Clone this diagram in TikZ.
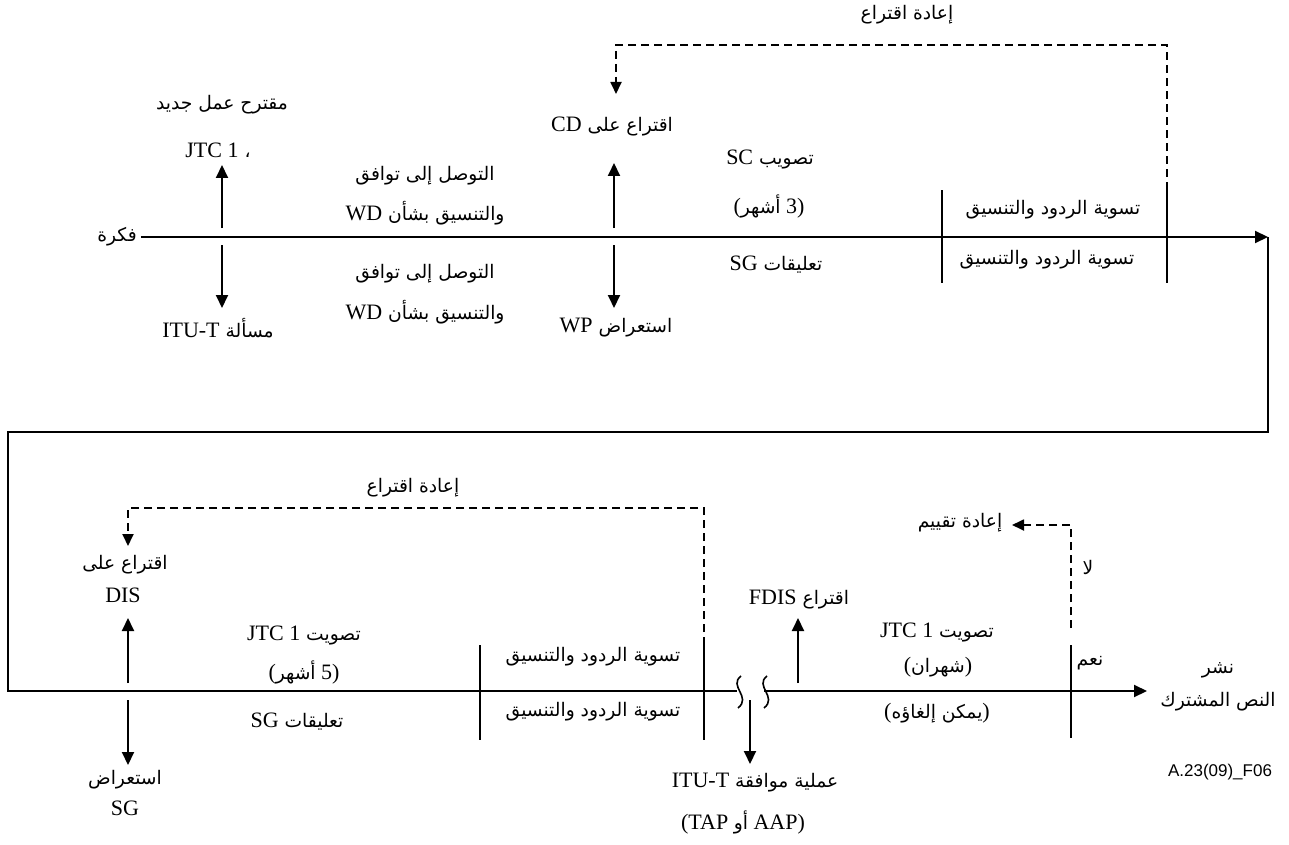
\documentclass[tikz,border=0pt]{standalone}
\usepackage{fontspec}
\setmainfont{Liberation Serif}
\newfontfamily\arfont[Script=Arabic,Scale=0.85]{DejaVu Sans}
\newfontfamily\codefont{Liberation Sans}
\TeXXeTstate=1
\usetikzlibrary{arrows.meta}
\newcommand\AR[1]{{\arfont\beginR #1\endR}}
\newcommand\LT[1]{\beginL{\rmfamily #1}\endL}
\newcommand\AW[1]{{\arfont #1}}
\tikzset{
  lbl/.style={font=\fontsize{22}{24}\selectfont, inner sep=0pt},
  ln/.style={line width=2pt},
  arr/.style={line width=2pt,-{Triangle[length=13pt,width=12pt]}},
  dsh/.style={line width=1.8pt,dash pattern=on 8pt off 5pt},
  darr/.style={dsh,-{Triangle[length=12pt,width=11pt]}},
  brk/.style={line width=1.6pt}
}
\begin{document}
\begin{tikzpicture}[x=1pt,y=-1pt]
\useasboundingbox (0,0) rectangle (1289,845);
% ---------- top row ----------
\node[lbl] (idea) at (117,237) {\AW{فكرة}};
\coordinate (c1) at (1268,237);
\coordinate (c2) at (1268,432);
\coordinate (c3) at (8,432);
\coordinate (c4) at (8,691);
\coordinate (c5) at (737,691);
\coordinate (c6) at (764,691);
\draw[arr,shorten <=4pt] (idea) -- (c1);

\node[lbl] (nwp) at (222,105) {\AR{مقترح عمل جديد}};
\node[lbl] (jtc) at (218,150) {\AR{، \LT{JTC 1}}};
\node[lbl] (itu) at (218,328) {\AR{مسألة \LT{ITU-T}}};
\coordinate (u1s) at (222,228); \coordinate (u1e) at (222,165);
\coordinate (d1s) at (222,245); \coordinate (d1e) at (222,308);
\draw[arr] (u1s) -- (u1e);
\draw[arr] (d1s) -- (d1e);

\node[lbl] (wd1a) at (425,176) {\AR{التوصل إلى توافق}};
\node[lbl] (wd1b) at (425,213) {\AR{والتنسيق بشأن \LT{WD}}};
\node[lbl] (wd2a) at (425,274) {\AR{التوصل إلى توافق}};
\node[lbl] (wd2b) at (425,312) {\AR{والتنسيق بشأن \LT{WD}}};

\node[lbl] (cd) at (612,127) {\AR{اقتراع على \LT{CD}}};
\node[lbl] (wp) at (616,328) {\AR{استعراض \LT{WP}}};
\coordinate (u2s) at (614,228); \coordinate (u2e) at (614,163);
\coordinate (d2s) at (614,245); \coordinate (d2e) at (614,308);
\draw[arr] (u2s) -- (u2e);
\draw[arr] (d2s) -- (d2e);

\node[lbl] (sc) at (770,160) {\AR{تصويب \LT{SC}}};
\node[lbl] (sc3) at (769,207) {\LT{(\AW{أشهر} 3)}};
\node[lbl] (sgc) at (776,265) {\AR{تعليقات \LT{SG}}};

\coordinate (t1a) at (942,190); \coordinate (t1b) at (942,283);
\coordinate (t2a) at (1167,190); \coordinate (t2b) at (1167,283);
\draw[ln] (t1a) -- (t1b);
\draw[ln] (t2a) -- (t2b);
\node[lbl] (res1) at (1053,210) {\AR{تسوية الردود والتنسيق}};
\node[lbl] (res2) at (1047,260) {\AR{تسوية الردود والتنسيق}};

\coordinate (r1a) at (1167,45); \coordinate (r1b) at (616,45); \coordinate (r1c) at (616,94);
\draw[darr] (t2a) -- (r1a) -- (r1b) -- (r1c);
\node[lbl] (rb1) at (907,15) {\AR{إعادة اقتراع}};

% ---------- connector between rows ----------
\draw[ln] (c1) -- (c2) -- (c3) -- (c4) -- (c5);
\node[lbl] (pub1) at (1218,670) {\AW{نشر}};
\node[lbl] (pub2) at (1218,702) {\AR{النص المشترك}};
\coordinate (c7) at (1147,691);
\draw[arr] (c6) -- (c7);

% break marks
\draw[brk] (741,676) .. controls (728,686) and (752,697) .. (738,708);
\draw[brk] (767,676) .. controls (754,686) and (778,697) .. (764,708);

% ---------- bottom row ----------
\node[lbl] (dis1) at (125,565) {\AR{اقتراع على}};
\node[lbl] (dis2) at (123,595) {\LT{DIS}};
\node[lbl] (sgr1) at (125,780) {\AR{استعراض}};
\node[lbl] (sgr2) at (125,808) {\LT{SG}};
\coordinate (u3s) at (128,683); \coordinate (u3e) at (128,618);
\coordinate (d3s) at (128,700); \coordinate (d3e) at (128,765);
\draw[arr] (u3s) -- (u3e);
\draw[arr] (d3s) -- (d3e);

\node[lbl] (v1) at (304,635) {\AR{تصويت \LT{JTC 1}}};
\node[lbl] (v1m) at (304,672) {\LT{(\AW{أشهر} 5)}};
\node[lbl] (sgc2) at (297,722) {\AR{تعليقات \LT{SG}}};

\coordinate (t3a) at (480,645); \coordinate (t3b) at (480,740);
\coordinate (t4a) at (704,645); \coordinate (t4b) at (704,740);
\draw[ln] (t3a) -- (t3b);
\draw[ln] (t4a) -- (t4b);
\node[lbl] (res3) at (593,657) {\AR{تسوية الردود والتنسيق}};
\node[lbl] (res4) at (593,712) {\AR{تسوية الردود والتنسيق}};

\coordinate (r2a) at (704,508); \coordinate (r2b) at (128,508); \coordinate (r2c) at (128,546);
\draw[darr] (t4a) -- (r2a) -- (r2b) -- (r2c);
\node[lbl] (rb2) at (413,488) {\AR{إعادة اقتراع}};

\node[lbl] (tap1) at (755,783) {\AR{عملية موافقة \LT{ITU-T}}};
\node[lbl] (tap2) at (743,822) {\LT{(TAP \AW{أو} AAP)}};
\coordinate (d4s) at (750,700); \coordinate (d4e) at (750,764);
\draw[arr] (d4s) -- (d4e);

\node[lbl] (fdis) at (799,599) {\AR{اقتراع \LT{FDIS}}};
\coordinate (u4s) at (798,683); \coordinate (u4e) at (798,618);
\draw[arr] (u4s) -- (u4e);

\node[lbl] (v2) at (937,632) {\AR{تصويت \LT{JTC 1}}};
\node[lbl] (v2m) at (938,667) {\LT{(\AW{شهران})}};
\node[lbl] (v2c) at (937,713) {\LT{(\AR{يمكن إلغاؤه})}};

\coordinate (t5a) at (1071,645); \coordinate (t5b) at (1071,738);
\draw[ln] (t5a) -- (t5b);
\coordinate (r3a) at (1071,628); \coordinate (r3b) at (1071,525); \coordinate (r3c) at (1012,525);
\draw[darr] (r3a) -- (r3b) -- (r3c);
\node[lbl] (reev) at (960,523) {\AR{إعادة تقييم}};
\node[lbl] (no) at (1088,567) {\AW{لا}};
\node[lbl] (yes) at (1090,663) {\AW{نعم}};

\node[font=\codefont\fontsize{17}{19}\selectfont,inner sep=0pt] (ref) at (1220,772) {A.23(09)\_F06};
\end{tikzpicture}
\end{document}
